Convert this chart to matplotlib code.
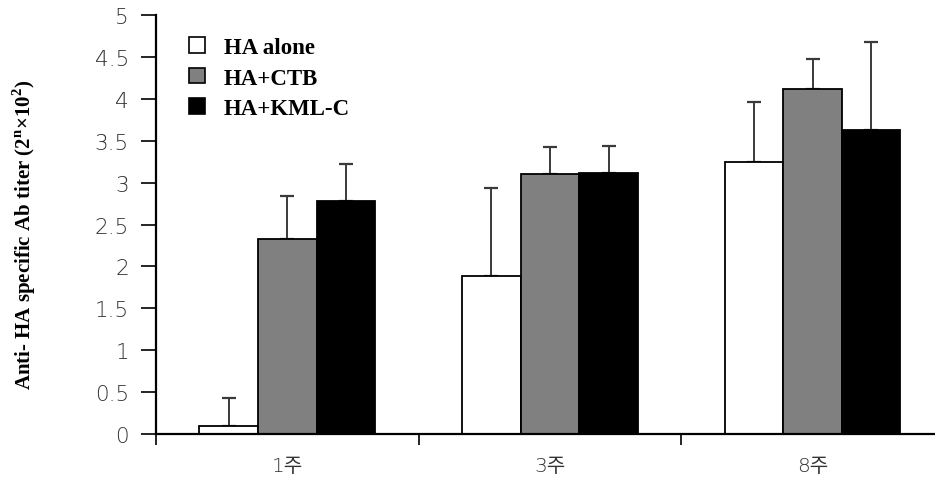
import matplotlib
matplotlib.use("Agg")
import matplotlib.pyplot as plt
from matplotlib.patches import Patch
from matplotlib.ticker import FuncFormatter
import numpy as np

# Data
weeks = ["1주", "3주", "8주"]
groups = ["HA alone", "HA+CTB", "HA+KML-C"]
means = {
    "HA alone": [0.10, 1.89, 3.25],
    "HA+CTB":   [2.33, 3.10, 4.12],
    "HA+KML-C": [2.78, 3.11, 3.63],
}
errors = {
    "HA alone": [0.33, 1.05, 0.71],
    "HA+CTB":   [0.51, 0.33, 0.35],
    "HA+KML-C": [0.44, 0.33, 1.05],
}
fills = {"HA alone": "#ffffff", "HA+CTB": "#808080", "HA+KML-C": "#000000"}

fig = plt.figure(figsize=(9.35, 4.81), dpi=100)
ax = fig.add_axes([0.1668, 0.0956, 0.8332, 0.8711])

bar_w = 0.223
centers = np.arange(len(weeks)) + 0.5
for i, g in enumerate(groups):
    x = centers + (i - 1) * bar_w
    ax.bar(x, means[g], width=bar_w, color=fills[g], edgecolor="black",
           linewidth=1.3, zorder=2)
    ax.errorbar(x, means[g], yerr=[np.zeros(len(weeks)), errors[g]],
                fmt="none", ecolor="#3a3a3a", elinewidth=1.4, capsize=5,
                capthick=1.6, zorder=1)

ax.set_xlim(0, 2.966)
ax.set_ylim(0, 5)
ax.set_yticks(np.arange(0, 5.01, 0.5))
ax.yaxis.set_major_formatter(FuncFormatter(lambda v, p: f"{v:g}"))
ax.set_xticks([0, 1, 2])
ax.set_xticklabels([])
ax.set_xticks(centers, minor=True)
ax.set_xticklabels(weeks, minor=True)

for side in ("top", "right"):
    ax.spines[side].set_visible(False)
for side in ("left", "bottom"):
    ax.spines[side].set_linewidth(1.6)
    ax.spines[side].set_color("black")

ax.tick_params(axis="y", direction="out", length=10.5, width=1.2, pad=9,
               labelsize=15.5, labelcolor="#333333")
ax.tick_params(axis="x", which="major", direction="out", length=8, width=1.2)
ax.tick_params(axis="x", which="minor", length=0, pad=16,
               labelsize=14.5, labelcolor="#333333")
for lab in ax.get_yticklabels() + ax.get_xticklabels(minor=True):
    lab.set_family(["DejaVu Sans", "Noto Sans CJK KR"])
    lab.set_fontweight("light")

fig.text(0.026, 0.511, "Anti- HA specific Ab titer (2$^{\\mathregular{n}}$\u00d710$^{\\mathregular{2}}$)",
         rotation=90, ha="center", va="center", family="Liberation Serif",
         fontweight="bold", fontsize=15)

handles = [Patch(facecolor=fills[g], edgecolor="black", linewidth=1.2) for g in groups]
leg = ax.legend(handles, groups, loc="upper left", bbox_to_anchor=(0.016, 0.997),
                frameon=False, handlelength=0.68, handleheight=0.68,
                handletextpad=0.85, labelspacing=0.42,
                prop={"family": "Liberation Serif", "weight": "bold", "size": 16.5})

fig.savefig("out.png", dpi=100)
